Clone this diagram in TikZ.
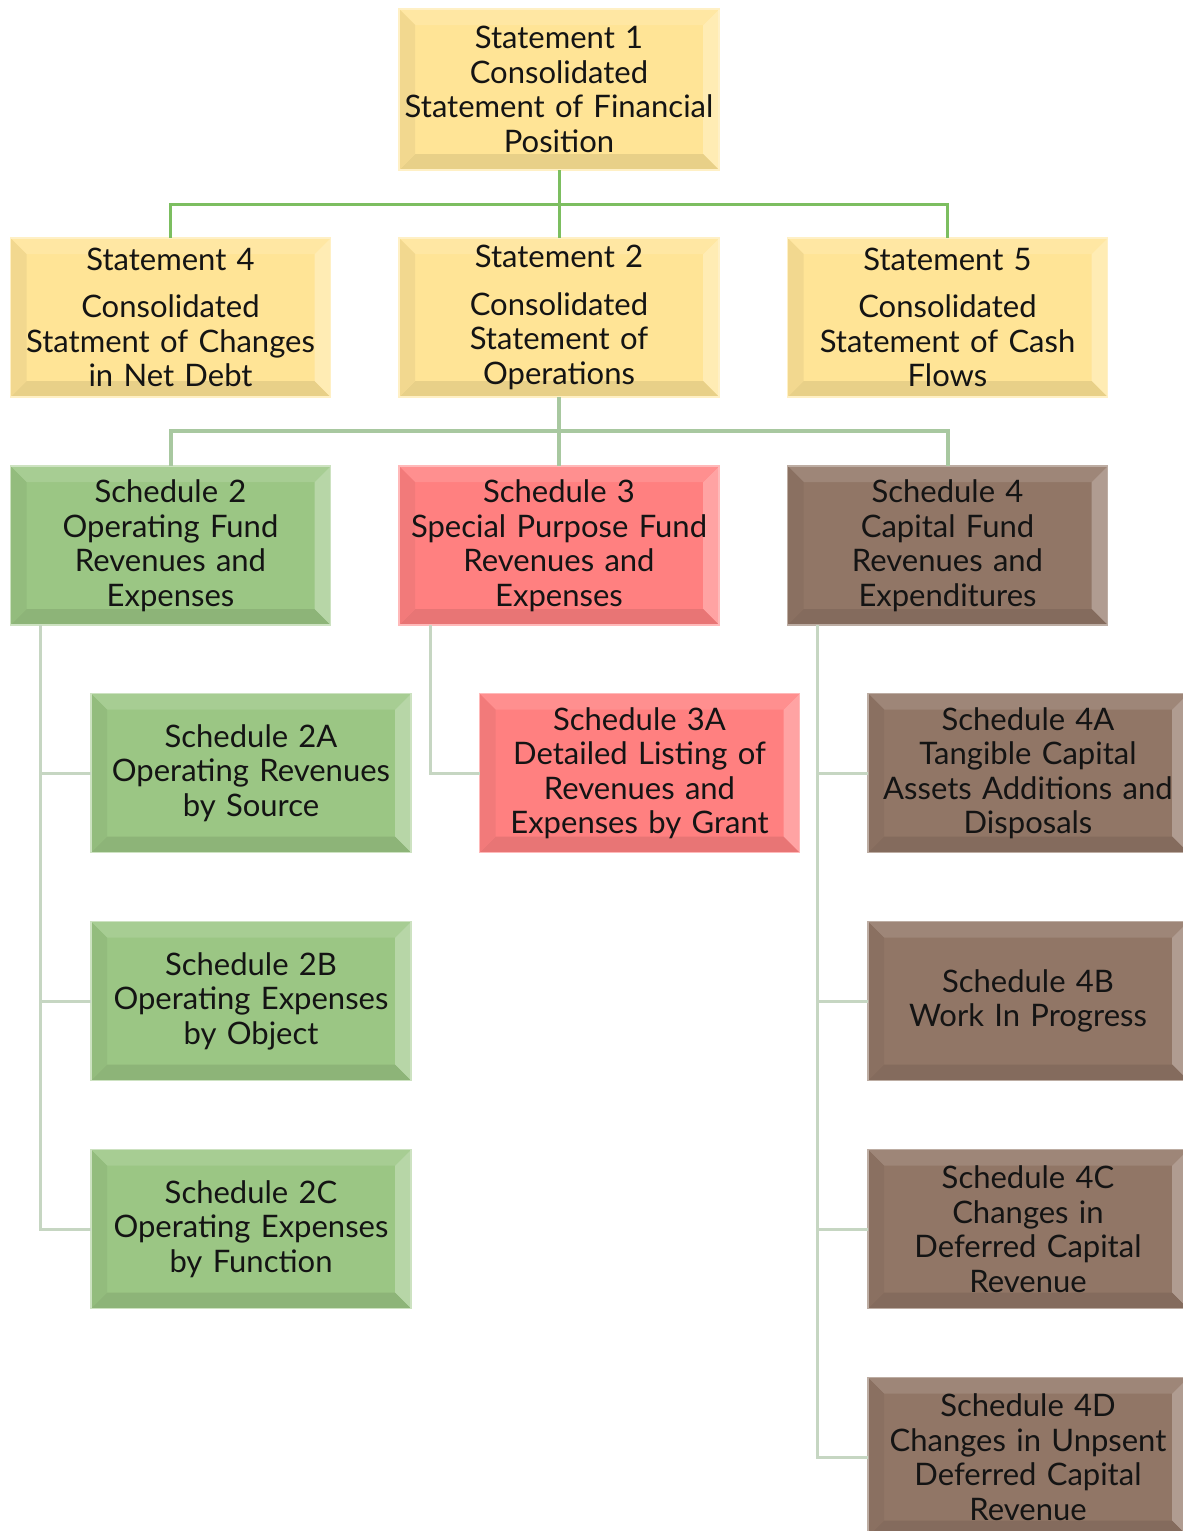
\documentclass[tikz,border=0pt]{standalone}
\usepackage{fontspec}
\setmainfont{Lato}
\definecolor{yel}{RGB}{255,228,150}
\definecolor{grn}{RGB}{155,198,132}
\definecolor{rd}{RGB}{255,128,128}
\definecolor{brn}{RGB}{145,118,102}
\definecolor{cone}{RGB}{124,190,96}
\definecolor{ctwo}{RGB}{168,200,160}
\definecolor{cthree}{RGB}{198,214,194}
\newcommand\bevelpp[1]{%
  \fill[#1!72!white] (path picture bounding box.north east) -- (path picture bounding box.south east)
     -- ([shift={(-16,-16)}]path picture bounding box.south east) -- ([shift={(-16,16)}]path picture bounding box.north east) -- cycle;
  \fill[#1!88!white] (path picture bounding box.north west) -- (path picture bounding box.north east)
     -- ([shift={(-16,16)}]path picture bounding box.north east) -- ([shift={(16,16)}]path picture bounding box.north west) -- cycle;
  \fill[#1!91!black] (path picture bounding box.south west) -- (path picture bounding box.south east)
     -- ([shift={(-16,-16)}]path picture bounding box.south east) -- ([shift={(16,-16)}]path picture bounding box.south west) -- cycle;
  \fill[#1!95!black] (path picture bounding box.north west) -- (path picture bounding box.south west)
     -- ([shift={(16,-16)}]path picture bounding box.south west) -- ([shift={(16,16)}]path picture bounding box.north west) -- cycle;
}
\tikzset{
  box/.style={rectangle, minimum width=320pt, minimum height=159pt, inner sep=0pt, outer sep=0pt,
    text width=318pt, align=center, font=\fontsize{31}{34.5}\selectfont, text=black!92, line width=1.5pt},
  ybox/.style={box, fill=yel, draw=yel!55!white, path picture={\bevelpp{yel}}},
  gbox/.style={box, fill=grn, draw=grn!50!white, path picture={\bevelpp{grn}}},
  rbox/.style={box, fill=rd, draw=rd!55!white, path picture={\bevelpp{rd}}},
  bbox/.style={box, fill=brn, draw=brn!60!white, path picture={\bevelpp{brn}}},
  conone/.style={draw=cone, line width=3pt},
  contwo/.style={draw=ctwo, line width=4pt},
  conthree/.style={draw=cthree, line width=3pt},
}
\begin{document}
\begin{tikzpicture}[x=1pt,y=-1pt]
\useasboundingbox (0,0) rectangle (1183,1531);
\coordinate (j1) at (559,204);
\coordinate (j2) at (559,431);
% nodes
\node[ybox, minimum height=161pt] (s1) at (559,89.5) {Statement 1\\Consolidated\\Statement of Financial\\Position};
\node[ybox] (s4) at (170.5,317.5) {Statement 4\\[13pt]Consolidated\\Statment of Changes\\in Net Debt};
\node[ybox] (s2) at (559,317.5) {Statement 2\\[13pt]Consolidated\\Statement of\\Operations};
\node[ybox] (s5) at (947.5,317.5) {Statement 5\\[13pt]Consolidated\\Statement of Cash\\Flows};
\node[gbox] (sc2) at (170.5,545.5) {Schedule 2\\Operating Fund\\Revenues and\\Expenses};
\node[rbox] (sc3) at (559,545.5) {Schedule 3\\Special Purpose Fund\\Revenues and\\Expenses};
\node[bbox] (sc4) at (947.5,545.5) {Schedule 4\\Capital Fund\\Revenues and\\Expenditures};
\node[gbox] (s2a) at (251,773) {Schedule 2A\\Operating Revenues\\by Source};
\node[gbox] (s2b) at (251,1001) {Schedule 2B\\Operating Expenses\\by Object};
\node[gbox] (s2c) at (251,1229) {Schedule 2C\\Operating Expenses\\by Function};
\node[rbox] (s3a) at (639.5,773) {Schedule 3A\\Detailed Listing of\\Revenues and\\Expenses by Grant};
\node[bbox] (s4a) at (1028,773) {Schedule 4A\\Tangible Capital\\Assets Additions and\\Disposals};
\node[bbox] (s4b) at (1028,1001) {Schedule 4B\\Work In Progress};
\node[bbox] (s4c) at (1028,1229) {Schedule 4C\\Changes in\\Deferred Capital\\Revenue};
\node[bbox] (s4d) at (1028,1457) {Schedule 4D\\Changes in Unpsent\\Deferred Capital\\Revenue};
% level 1 connectors
\draw[conone] (s1.south) -- (j1);
\draw[conone] (j1) -| (s4.north);
\draw[conone] (j1) -| (s5.north);
\draw[conone] (j1) -- (s2.north);
% level 2 connectors
\draw[contwo] (s2.south) -- (j2);
\draw[contwo] (j2) -| (sc2.north);
\draw[contwo] (j2) -| (sc4.north);
\draw[contwo] (j2) -- (sc3.north);
% level 3 connectors
\draw[conthree] ([xshift=30pt]sc2.south west) |- (s2a.west);
\draw[conthree] ([xshift=30pt]sc2.south west) |- (s2b.west);
\draw[conthree] ([xshift=30pt]sc2.south west) |- (s2c.west);
\draw[conthree] ([xshift=31pt]sc3.south west) |- (s3a.west);
\draw[conthree] ([xshift=30pt]sc4.south west) |- (s4a.west);
\draw[conthree] ([xshift=30pt]sc4.south west) |- (s4b.west);
\draw[conthree] ([xshift=30pt]sc4.south west) |- (s4c.west);
\draw[conthree] ([xshift=30pt]sc4.south west) |- (s4d.west);
\end{tikzpicture}
\end{document}
